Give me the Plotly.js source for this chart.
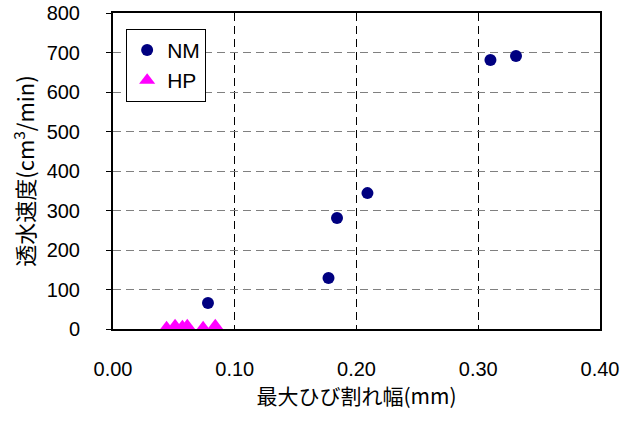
<!DOCTYPE html>
<html>
<head>
<meta charset="utf-8">
<script src="https://cdn.plot.ly/plotly-3.0.1.min.js"></script>
<style>html,body{margin:0;padding:0;background:#fff;}#chart{width:628px;height:421px;}</style>
</head>
<body>
<div id="chart"></div>
<script>
var nmX = [0.078, 0.177, 0.184, 0.209, 0.310, 0.331];
var nmY = [66, 129, 281, 344, 681, 691];
var hpX = [0.044, 0.051, 0.057, 0.061, 0.074, 0.084];
var hpY = [3, 8, 6, 8, 3, 8];
var xTicks = [0, 0.1, 0.2, 0.3, 0.4];
var xTickText = ['0.00', '0.10', '0.20', '0.30', '0.40'];
var yTicks = [0, 100, 200, 300, 400, 500, 600, 700, 800];

var numFont = 'Liberation Sans, Arial, sans-serif';
var jpFont = 'Noto Sans CJK JP, sans-serif';

var traces = [
  {x: nmX, y: nmY, name: 'NM', type: 'scatter', mode: 'markers',
   marker: {symbol: 'circle', size: 12, color: '#000080'}},
  {x: hpX, y: hpY, name: 'HP', type: 'scatter', mode: 'markers',
   marker: {symbol: 'triangle-up', size: 14, color: '#FF00FF'}}
];

var layout = {
  width: 628, height: 421,
  margin: {l: 113, r: 28, t: 13, b: 92},
  paper_bgcolor: '#fff', plot_bgcolor: '#fff',
  showlegend: true,
  legend: {x: 0.027, y: 0.95, xanchor: 'left', yanchor: 'top',
           bgcolor: '#fff', bordercolor: '#000', borderwidth: 1,
           font: {family: numFont, size: 21, color: '#000'}},
  xaxis: {
    range: [0, 0.4], tickvals: xTicks, ticktext: xTickText,
    showline: true, mirror: true, linecolor: '#000', linewidth: 2,
    showgrid: true, gridcolor: '#000', griddash: '8px,5px', gridwidth: 1,
    zeroline: false, ticks: '', ticklabelstandoff: 21,
    tickfont: {family: numFont, size: 20, color: '#000'},
    title: {text: '最大ひび割れ幅(mm)', standoff: 10, font: {family: jpFont, size: 21, color: '#000'}}
  },
  yaxis: {
    range: [0, 800], tickvals: yTicks,
    showline: true, mirror: true, linecolor: '#000', linewidth: 2,
    showgrid: true, gridcolor: '#808080', griddash: '8px,5px', gridwidth: 1,
    zeroline: false, ticks: 'outside', ticklen: 5, tickcolor: '#000', ticklabelstandoff: 22,
    tickfont: {family: numFont, size: 20, color: '#000'},
    title: {text: '透水速度(cm<sup>3</sup>/min)', standoff: 6, font: {family: jpFont, size: 22, color: '#000'}}
  }
};

Plotly.newPlot('chart', traces, layout, {displayModeBar: false, staticPlot: true});
</script>
</body>
</html>
